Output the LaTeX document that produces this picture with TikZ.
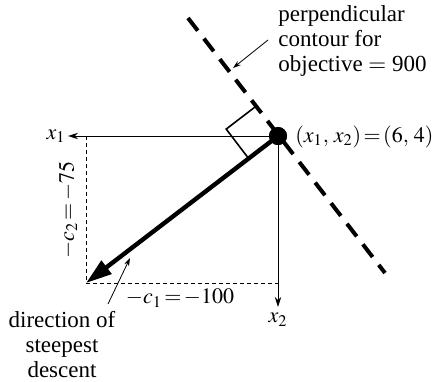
\documentclass[tikz,border=0pt]{standalone}
\usepackage{mathptmx}
\usepackage{fontspec}
\setmainfont{Liberation Serif}
\usetikzlibrary{arrows.meta, calc}
\thickmuskip=2mu plus 1mu
\medmuskip=1.5mu
\tikzset{
  lbl/.style={font=\fontsize{11}{12.5}\selectfont, inner sep=1pt},
  txt/.style={font=\fontsize{11.5}{12.5}\selectfont, inner sep=1pt},
  axis/.style={-{Stealth[length=5pt,width=3.2pt]}, line width=0.5pt},
  proj/.style={dash pattern=on 2pt off 1.5pt, line width=0.5pt},
  cont/.style={dash pattern=on 8pt off 5pt, line width=2pt},
  sarr/.style={-{Triangle[length=13pt,width=8pt]}, line width=2.2pt},
  narr/.style={-{Stealth[length=4pt,width=2.6pt]}, line width=0.4pt},
  ang/.style={line width=0.8pt},
}
\begin{document}
\begin{tikzpicture}[x=0.5pt, y=-0.5pt]
  \useasboundingbox (0,0) rectangle (433,381);
  \node[circle, fill, inner sep=0pt, minimum size=9pt] (pt) at (278,136) {};
  \coordinate (xa) at (68,136);
  \coordinate (xb) at (278,307);
  \coordinate (sd) at (86,283);
  \coordinate (ct) at (188,18);
  \coordinate (cb) at (385,273);
  % axes
  \draw[axis] (pt.center) -- (xa);
  \draw[axis] (pt.center) -- (xb);
  \node[lbl, left] (lxa) at (xa) {$x_1$};
  \node[lbl, below=2pt] (lxb) at (xb) {$x_2$};
  % components of the gradient
  \draw[proj] (sd |- xa) -- (sd) -- (xb |- sd);
  \node[lbl, rotate=90] (c2) at (68,210) {$-c_2 = -75$};
  \node[lbl] (c1) at (180,298) {$-c_1 = -100$};
  % contour and descent
  \draw[cont] (ct) -- (cb);
  \draw[sarr] (pt.center) -- (sd);
  \coordinate (ra) at ($(pt.center)!18.5pt!(sd)$);
  \coordinate (rb) at ($(pt.center)!18.5pt!(ct)$);
  \draw[ang] (ra) -- ($(ra)+(rb)-(pt.center)$) -- (rb);
  \node[circle, fill, inner sep=0pt, minimum size=9pt] at (pt) {};
  \node[lbl, anchor=west] (eq) at (293,137) {$(x_1,\, x_2) = (6,\, 4)$};
  % notes
  \node[txt, align=left, anchor=north west] (note) at (276,3) {perpendicular\\contour for\\objective $=$ 900};
  \node[txt, align=center, anchor=north] (desc) at (62,309) {direction of\\steepest\\descent};
  \coordinate (na) at (268,40);
  \coordinate (nb) at (233,68);
  \coordinate (da) at (108,304);
  \coordinate (db) at (130,258);
  \draw[narr] (na) -- (nb);
  \draw[narr] (da) -- (db);
\end{tikzpicture}
\end{document}
